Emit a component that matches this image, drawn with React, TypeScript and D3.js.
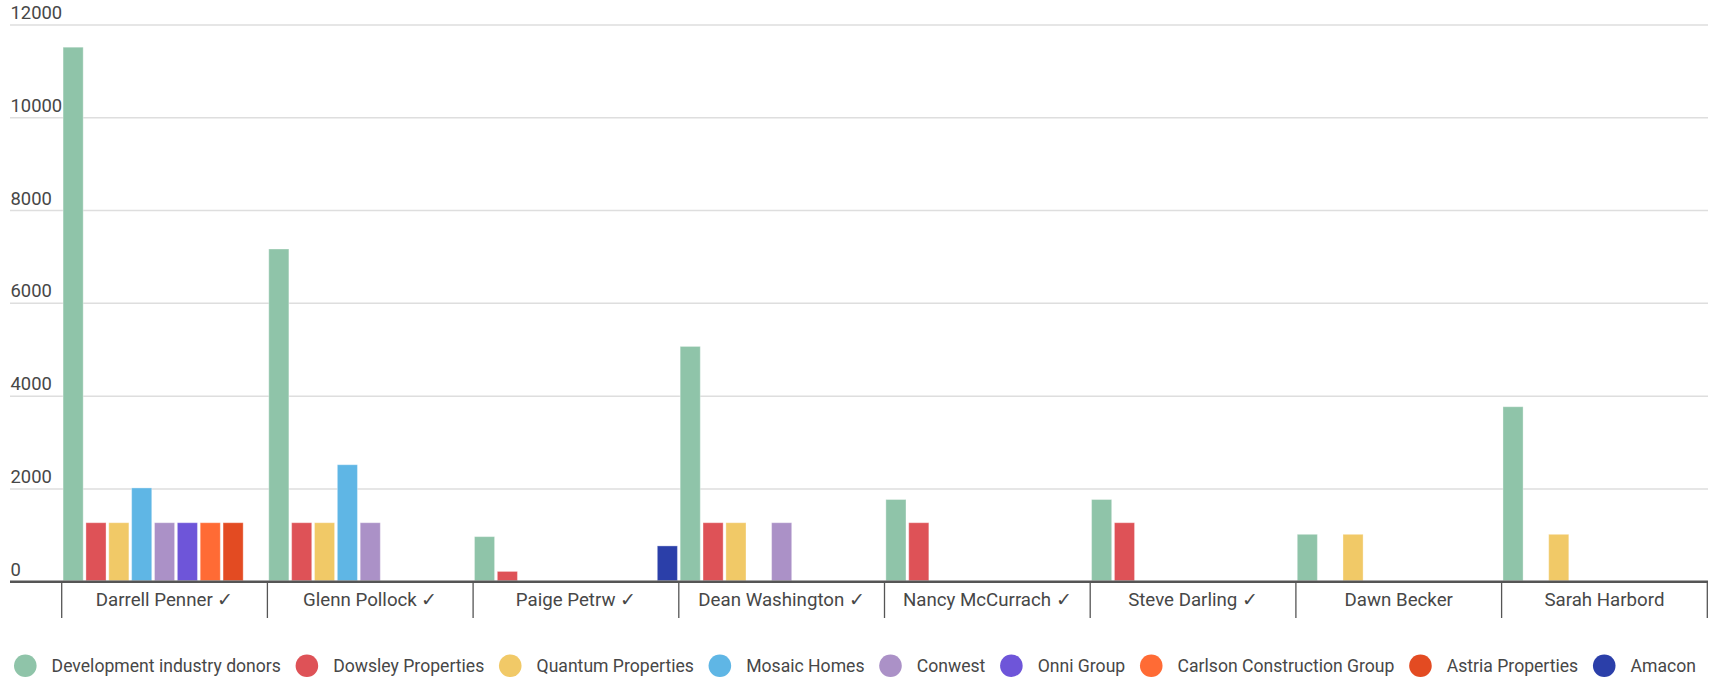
import { useEffect, useRef } from "react";
import * as d3 from "d3";

const candidates = [
  "Darrell Penner ✓",
  "Glenn Pollock ✓",
  "Paige Petrw ✓",
  "Dean Washington ✓",
  "Nancy McCurrach ✓",
  "Steve Darling ✓",
  "Dawn Becker",
  "Sarah Harbord",
];

const donors = [
  "Development industry donors",
  "Dowsley Properties",
  "Quantum Properties",
  "Mosaic Homes",
  "Conwest",
  "Onni Group",
  "Carlson Construction Group",
  "Astria Properties",
  "Amacon",
];

const donorColors = [
  "#8fc4a9",
  "#de5257",
  "#f1c967",
  "#5fb6e5",
  "#ab91c7",
  "#6e55d9",
  "#ff6b35",
  "#e34b22",
  "#2b3fa9",
];

// one array per donor, in candidate order (null = no donation)
const developmentIndustry = [11500, 7150, 950, 5050, 1750, 1750, 1000, 3750];
const dowsley = [1250, 1250, 200, 1250, 1250, 1250, null, null];
const quantum = [1250, 1250, null, 1250, null, null, 1000, 1000];
const mosaic = [2000, 2500, null, null, null, null, null, null];
const conwest = [1250, 1250, null, 1250, null, null, null, null];
const onni = [1250, null, null, null, null, null, null, null];
const carlson = [1250, null, null, null, null, null, null, null];
const astria = [1250, null, null, null, null, null, null, null];
const amacon = [null, null, 750, null, null, null, null, null];

const seriesValues = [developmentIndustry, dowsley, quantum, mosaic, conwest, onni, carlson, astria, amacon];

const yTicks = [0, 2000, 4000, 6000, 8000, 10000, 12000];

const WIDTH = 1718;
const HEIGHT = 697;
const FONT = "Roboto, 'Noto Sans', sans-serif";
const TEXT_COLOR = "#474747";

export default function App() {
  const svgRef = useRef<SVGSVGElement>(null);

  useEffect(() => {
    if (!svgRef.current) return;
    const svg = d3.select(svgRef.current);
    svg.selectAll("*").remove();

    const axisLeft = 10;
    const axisRight = 1708;
    const baseline = 581.7;

    const x0 = d3.scaleBand().domain(candidates).range([61.7, 1707.3]).padding(0);
    const x1 = d3
      .scaleBand()
      .domain(donors)
      .range([0, x0.bandwidth()])
      .paddingInner(0.12)
      .paddingOuter(0.06);
    const y = d3.scaleLinear().domain([0, 12000]).range([baseline, 25]);

    // gridlines + y labels
    const grid = svg.append("g");
    grid
      .selectAll("line")
      .data(yTicks.filter((t) => t > 0))
      .join("line")
      .attr("x1", axisLeft)
      .attr("x2", axisRight)
      .attr("y1", (d) => y(d))
      .attr("y2", (d) => y(d))
      .attr("stroke", "#dedede")
      .attr("stroke-width", 1.5);

    grid
      .selectAll("text")
      .data(yTicks)
      .join("text")
      .attr("x", 10.5)
      .attr("y", (d) => y(d) - 6)
      .attr("font-family", FONT)
      .attr("font-size", 18.4)
      .attr("fill", TEXT_COLOR)
      .text((d) => String(d));

    // bars
    const groups = svg
      .append("g")
      .selectAll("g")
      .data(candidates)
      .join("g")
      .attr("transform", (d) => `translate(${x0(d)},0)`);

    groups
      .selectAll("rect")
      .data((_, ci) =>
        donors
          .map((donor, si) => ({ donor, si, value: seriesValues[si][ci] }))
          .filter((d) => d.value != null)
      )
      .join("rect")
      .attr("x", (d) => x1(d.donor) ?? 0)
      .attr("width", x1.bandwidth())
      .attr("y", (d) => y(d.value as number) - 1)
      .attr("height", (d) => baseline - y(d.value as number))
      .attr("fill", (d) => donorColors[d.si])
      .attr("stroke", "rgba(255,255,255,0.35)")
      .attr("stroke-width", 1);

    // x axis
    const axis = svg.append("g");
    axis
      .append("line")
      .attr("x1", axisLeft)
      .attr("x2", axisRight)
      .attr("y1", baseline)
      .attr("y2", baseline)
      .attr("stroke", "#555")
      .attr("stroke-width", 2.5);

    const boundaries = candidates.map((c) => x0(c) ?? 0).concat([x0.range()[1]]);
    axis
      .selectAll("line.tick")
      .data(boundaries)
      .join("line")
      .attr("class", "tick")
      .attr("x1", (d) => d)
      .attr("x2", (d) => d)
      .attr("y1", baseline)
      .attr("y2", 618)
      .attr("stroke", "#555")
      .attr("stroke-width", 1.3);

    axis
      .selectAll("text")
      .data(candidates)
      .join("text")
      .attr("x", (d) => (x0(d) ?? 0) + x0.bandwidth() / 2)
      .attr("y", 606)
      .attr("text-anchor", "middle")
      .attr("font-family", FONT)
      .attr("font-size", 18.7)
      .attr("fill", TEXT_COLOR)
      .text((d) => d);

    // legend
    const legend = svg.append("g");
    let cx = 25.3;
    donors.forEach((donor, i) => {
      legend
        .append("circle")
        .attr("cx", cx)
        .attr("cy", 665.7)
        .attr("r", 11.3)
        .attr("fill", donorColors[i]);
      const t = legend
        .append("text")
        .attr("x", cx + 26.3)
        .attr("y", 672.3)
        .attr("font-family", FONT)
        .attr("font-size", 17.6)
        .attr("fill", TEXT_COLOR)
        .text(donor);
      const w = (t.node() as SVGTextElement).getComputedTextLength();
      cx = cx + 26.3 + w + 26;
    });
  }, []);

  return (
    <div style={{ position: "absolute", left: 0, top: 0, background: "#fff" }}>
      <svg ref={svgRef} width={WIDTH} height={HEIGHT} style={{ display: "block" }} />
    </div>
  );
}
